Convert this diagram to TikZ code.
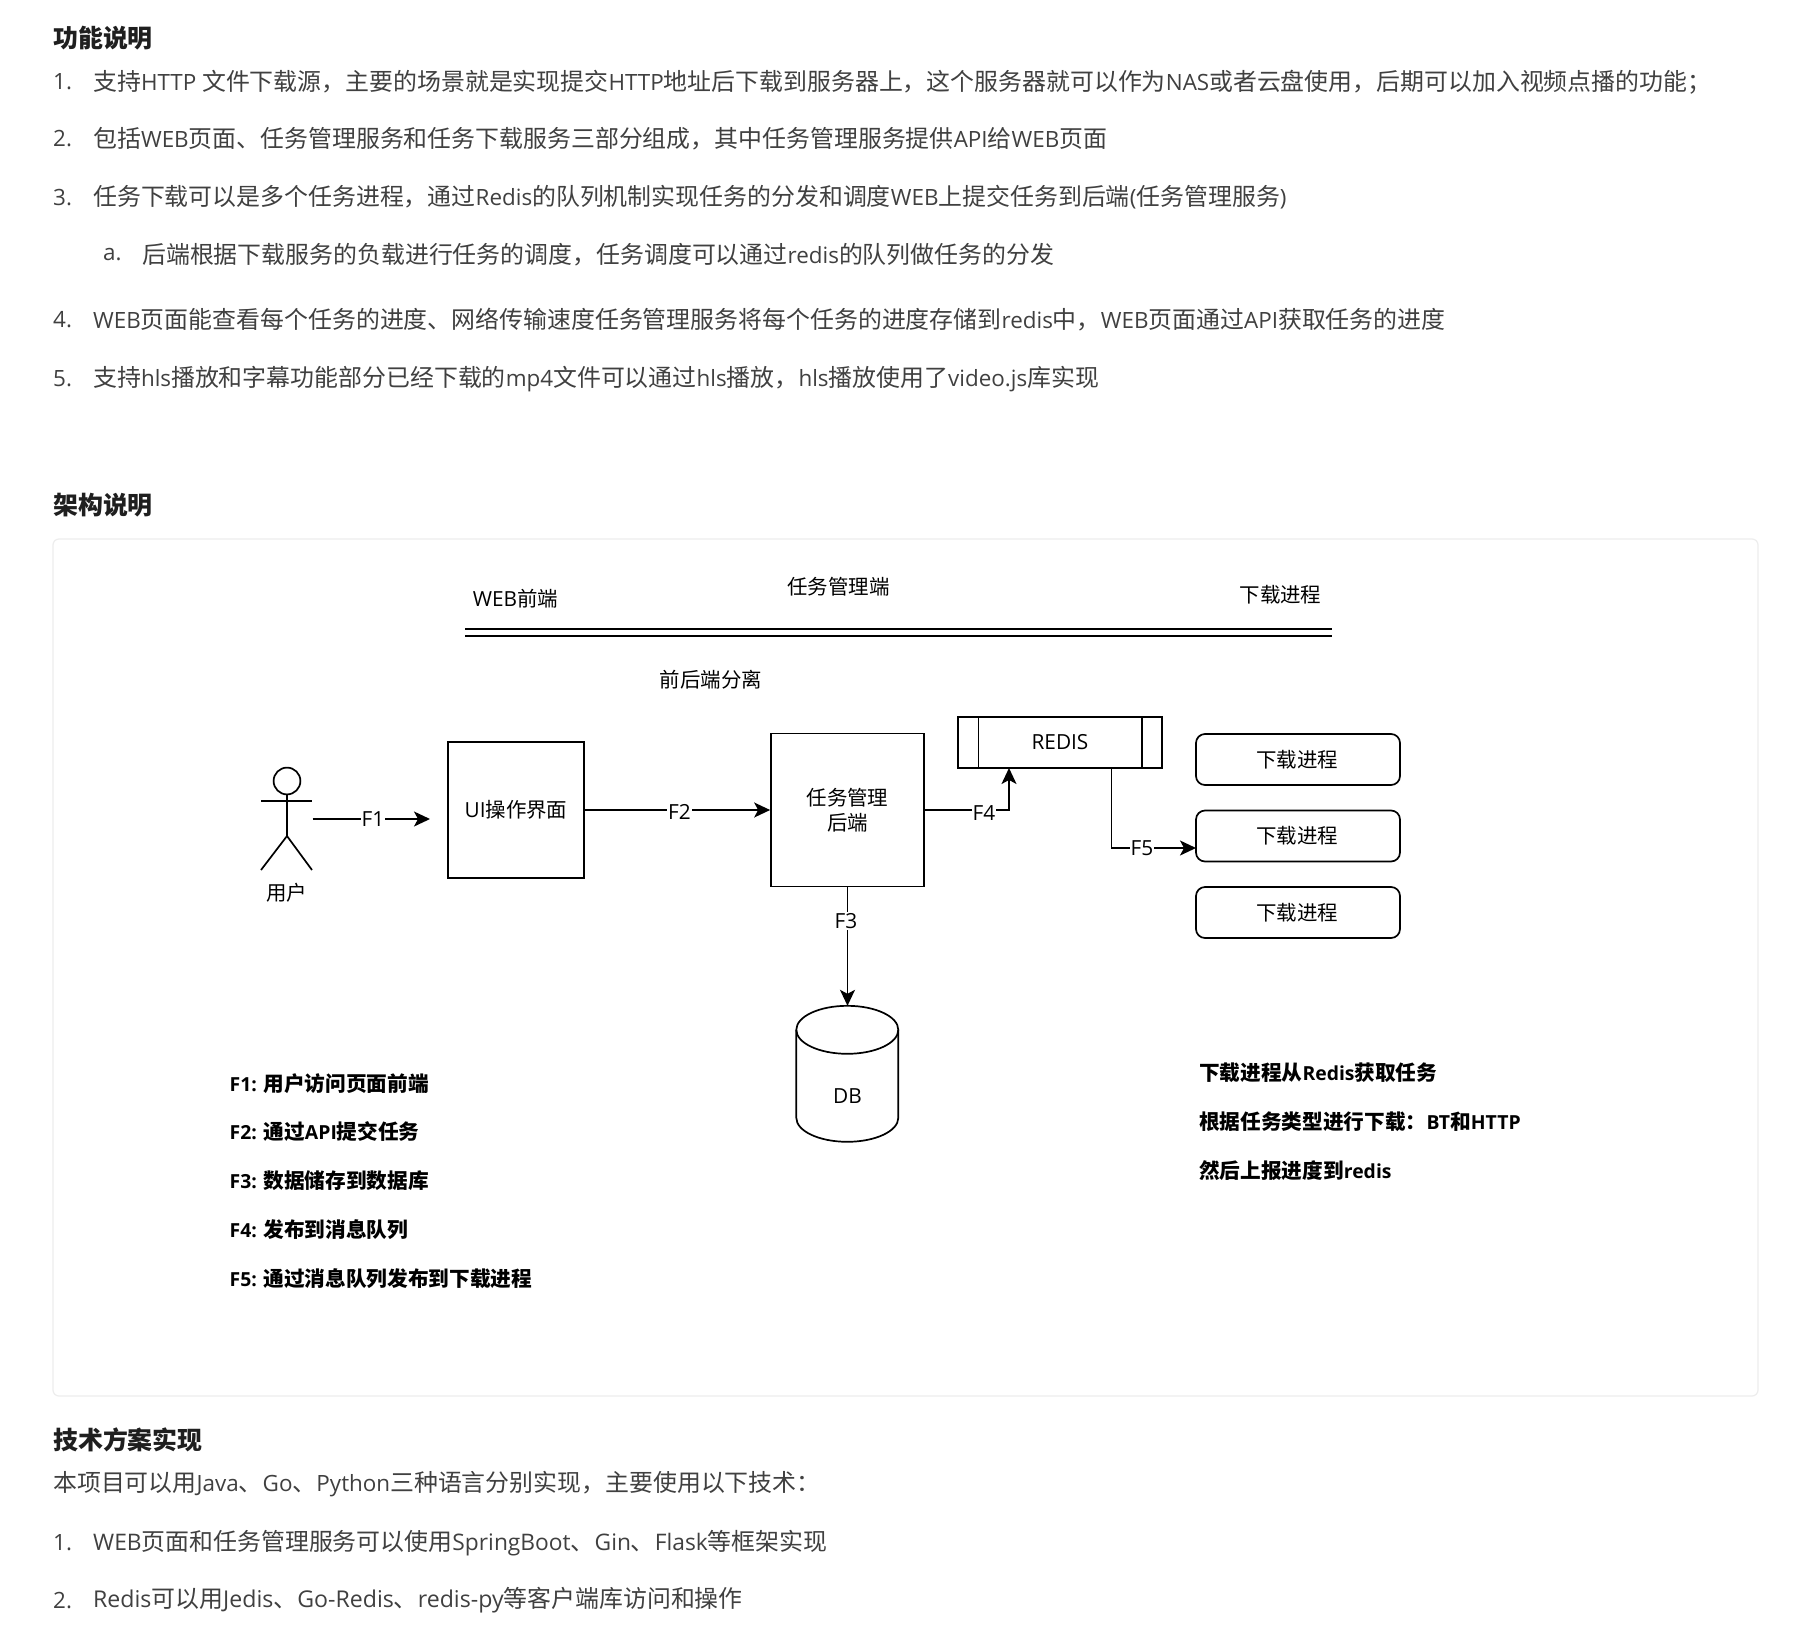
\documentclass[tikz,border=0pt]{standalone}
\usepackage{fontspec}
\usetikzlibrary{arrows.meta}
\setmainfont[Scale=0.95]{Open Sans}
\newfontfamily\cjk[Scale=1.013]{Noto Sans CJK SC}
\newfontfamily\dialatinf[Scale=1.03]{Open Sans}
\newfontfamily\widelatf[Scale=0.98]{Open Sans}
\newfontfamily\midlatf[Scale=0.965]{Open Sans}
\newcommand\latinsw{\rmfamily}
\XeTeXinterchartokenstate=1
\newXeTeXintercharclass\cjkclass
\newcount\cc
\cc="4E00 \loop\ifnum\cc<"A000 \XeTeXcharclass\cc=\cjkclass \advance\cc by 1 \repeat
\cc="3000 \loop\ifnum\cc<"3040 \XeTeXcharclass\cc=\cjkclass \advance\cc by 1 \repeat
\cc="FF00 \loop\ifnum\cc<"FFF0 \XeTeXcharclass\cc=\cjkclass \advance\cc by 1 \repeat
\XeTeXinterchartoks 0 \cjkclass={\cjk}
\XeTeXinterchartoks 4095 \cjkclass={\cjk}
\XeTeXinterchartoks \cjkclass 0={\latinsw}
\XeTeXinterchartoks 4095 0={\latinsw}
\definecolor{bodytxt}{HTML}{404040}
\definecolor{head}{HTML}{1F1F1F}
\definecolor{card}{HTML}{EDEDED}
\tikzset{
  x=1pt,y=-1pt,
  diafont/.style={font=\renewcommand\latinsw{\dialatinf}\fontsize{20.2}{24}\selectfont},
  bodytext/.style={anchor=west,inner sep=0,text=bodytxt,font=\fontsize{23.6}{28}\selectfont},
  widebody/.style={bodytext,font=\renewcommand\latinsw{\widelatf}\fontsize{23.6}{28}\selectfont},
  midbody/.style={bodytext,font=\renewcommand\latinsw{\midlatf}\fontsize{23.6}{28}\selectfont},
  headtext/.style={anchor=west,inner sep=0,text=head,font=\fontsize{24.6}{30}\selectfont\bfseries},
  boldnote/.style={anchor=west,inner sep=0,text=black,font=\fontsize{20.4}{24}\selectfont\bfseries},
  dialabel/.style={inner sep=0,text=black,diafont,align=center},
  edgelabel/.style={inner sep=1pt,fill=white,text=black,diafont},
  diabox/.style={draw=black,line width=1.7pt,inner sep=0,align=center,text=black,diafont},
  roundbox/.style={diabox,rounded corners=9pt,minimum width=204pt,minimum height=51pt},
  flow/.style={draw=black,line width=1.7pt,-{Stealth[length=16pt,width=15pt,inset=4pt]}},
  plain/.style={draw=black,line width=1.7pt},
}
\begin{document}
\begin{tikzpicture}
\useasboundingbox (0,0) rectangle (1797,1631);
\fill[white] (0,0) rectangle (1797,1631);

% document text
\node[headtext] (h1) at (53,38) {功能说明};
\node[bodytext] (n1) at (53,82) {1.};
\node[bodytext] (t1) at (93,82) {支持HTTP 文件下载源，主要的场景就是实现提交HTTP地址后下载到服务器上，这个服务器就可以作为NAS或者云盘使用，后期可以加入视频点播的功能；};
\node[bodytext] (n2) at (53,139) {2.};
\node[bodytext] (t2) at (93,139) {包括WEB页面、任务管理服务和任务下载服务三部分组成，其中任务管理服务提供API给WEB页面};
\node[bodytext] (n3) at (53,197.5) {3.};
\node[bodytext] (t3) at (93,197.5) {任务下载可以是多个任务进程，通过Redis的队列机制实现任务的分发和调度WEB上提交任务到后端(任务管理服务)};
\node[bodytext] (na) at (103,255) {a.};
\node[bodytext] (ta) at (142,255) {后端根据下载服务的负载进行任务的调度，任务调度可以通过redis的队列做任务的分发};
\node[bodytext] (n4) at (53,320) {4.};
\node[bodytext] (t4) at (93,320) {WEB页面能查看每个任务的进度、网络传输速度任务管理服务将每个任务的进度存储到redis中，WEB页面通过API获取任务的进度};
\node[bodytext] (n5) at (53,379) {5.};
\node[bodytext] (t5) at (93,379) {支持hls播放和字幕功能部分已经下载的mp4文件可以通过hls播放，hls播放使用了video.js库实现};
\node[headtext] (h2) at (53,505) {架构说明};

% card
\draw[card,line width=1.2pt,rounded corners=6pt] (53,539) rectangle (1758,1396);

\node[headtext] (h3) at (53,1440) {技术方案实现};
\node[bodytext] (p1) at (53,1484) {本项目可以用Java、Go、Python三种语言分别实现，主要使用以下技术：};
\node[bodytext] (m1) at (53,1543) {1.};
\node[midbody] (u1) at (93,1543) {WEB页面和任务管理服务可以使用SpringBoot、Gin、Flask等框架实现};
\node[bodytext] (m2) at (53,1600.5) {2.};
\node[widebody] (u2) at (93,1600.5) {Redis可以用Jedis、Go-Redis、redis-py等客户端库访问和操作};

% diagram top labels
\node[dialabel] (lweb) at (515.5,598.5) {WEB前端};
\node[dialabel] (lmgr) at (838.5,587) {任务管理端};
\node[dialabel] (ldl) at (1280.5,595) {下载进程};
\coordinate (r1a) at (465,629);
\coordinate (r1b) at (1332,629);
\coordinate (r2a) at (465,636);
\coordinate (r2b) at (1332,636);
\draw[plain] (r1a) -- (r1b);
\draw[plain] (r2a) -- (r2b);
\node[dialabel] (lsep) at (711,679.5) {前后端分离};

% actor
\draw[plain] (287,781) ellipse [x radius=13.4,y radius=13.4];
\coordinate (neck) at (287,794.4);
\coordinate (hip) at (287,836);
\coordinate (armL) at (261,801);
\coordinate (armR) at (312,801);
\coordinate (legL) at (261,870);
\coordinate (legR) at (312,870);
\draw[plain] (neck) -- (hip);
\draw[plain] (armL) -- (armR);
\draw[plain] (legL) -- (hip) -- (legR);
\node[dialabel] (user) at (286.5,893) {用户};

% boxes
\node[diabox,minimum width=136pt,minimum height=136pt] (ui) at (516,810) {UI操作界面};
\node[diabox,minimum width=153pt,minimum height=153pt] (task) at (847.5,810) {任务管理\\[1pt]后端};
\node[diabox,minimum width=204pt,minimum height=51pt] (redis) at (1060,742.5) {REDIS};
\draw[plain] (978.5,717) -- (978.5,768);
\draw[plain] (1142,717) -- (1142,768);
\node[roundbox] (p1b) at (1298,759.5) {\hspace{-2pt}下载进程};
\node[roundbox] (p2b) at (1298,836) {\hspace{-2pt}下载进程};
\node[roundbox] (p3b) at (1298,912.5) {\hspace{-2pt}下载进程};

% DB
\node[inner sep=0,minimum width=102pt,minimum height=136pt] (db) at (847.5,1074) {};
\node[dialabel] (dbt) at (847.5,1096.5) {DB};
\draw[plain] (db.north west)++(0,24) arc[start angle=180,end angle=360,x radius=51,y radius=24]
   -- ++(0,88) arc[start angle=0,end angle=180,x radius=51,y radius=24] -- cycle;
\draw[plain] (db.north west)++(0,24) arc[start angle=180,end angle=0,x radius=51,y radius=24];

% connectors
\coordinate (f1s) at (312.6,819);
\coordinate (f1e) at (430,819);
\draw[flow] (f1s) -- (f1e);
\node[edgelabel] (lf1) at (373,819.5) {F1};
\draw[flow] (ui.east) -- (task.west);
\node[edgelabel] (lf2) at (679.5,811.5) {F2};
\draw[flow] (task.south) -- (db.north);
\node[edgelabel] (lf3) at (846,921) {F3};
\coordinate (f4s) at (924,810);
\coordinate (f4t) at (1009,768);
\draw[flow] (f4s) -| (f4t);
\node[edgelabel] (lf4) at (984,813.5) {F4};
\coordinate (f5s) at (1111.4,768);
\coordinate (f5t) at (1196,848);
\draw[flow] (f5s) |- (f5t);
\node[edgelabel] (lf5) at (1142,848.5) {F5};

% notes
\node[boldnote] (f1n) at (229.5,1083.5) {F1: 用户访问页面前端};
\node[boldnote] (f2n) at (229.5,1132) {F2: 通过API提交任务};
\node[boldnote] (f3n) at (229.5,1180.5) {F3: 数据储存到数据库};
\node[boldnote] (f4n) at (229.5,1230) {F4: 发布到消息队列};
\node[boldnote] (f5n) at (229.5,1279) {F5: 通过消息队列发布到下载进程};
\node[boldnote] (r1n) at (1199,1073) {下载进程从Redis获取任务};
\node[boldnote] (r2n) at (1199,1122) {根据任务类型进行下载：BT和HTTP};
\node[boldnote] (r3n) at (1199,1171) {然后上报进度到redis};
\end{tikzpicture}
\end{document}
